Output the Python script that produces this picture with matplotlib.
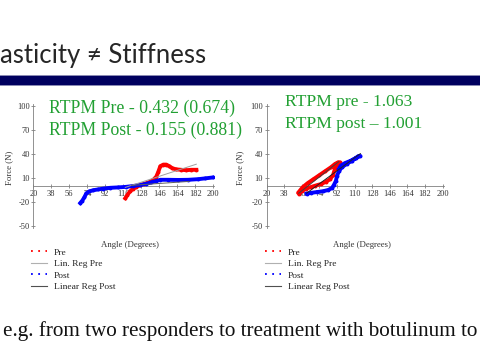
import matplotlib
matplotlib.use('Agg')
import matplotlib.pyplot as plt
from matplotlib.lines import Line2D
from matplotlib.patches import Rectangle

plt.rcParams['font.family'] = ['Liberation Serif', 'DejaVu Serif']
plt.rcParams['axes.unicode_minus'] = False

# axis ticks
x_ticks = [20, 38, 56, 74, 92, 110, 128, 146, 164, 182, 200]
y_ticks = [-50, -20, 10, 40, 70, 100]

# left chart
pre1_angle = [112, 114, 117, 120, 123, 127, 131, 136, 140, 143, 145, 147, 150, 153, 156, 159, 163, 168, 173, 178, 183]
pre1_force = [-15, -11, -6, -3, -1, 1.5, 3, 5, 8, 12, 18, 25, 27, 27, 25, 22.5, 21, 20.5, 20, 20.5, 20.5]
post1_angle = [67, 69, 71, 73, 76, 80, 85, 90, 97, 105, 113, 120, 127, 133, 138, 143, 147, 155, 165, 175, 185, 192, 200]
post1_force = [-21, -18, -14, -9, -6.5, -5, -4, -3, -2, -1.5, -0.8, 0.3, 1.5, 3, 4.8, 6.5, 8, 8, 7.8, 8, 8.8, 9.8, 11]
reg_pre1_angle = [112, 183]
reg_pre1_force = [-1.5, 27.5]
reg_post1_angle = [118, 176]
reg_post1_force = [1, 6]

# right chart
pre2_angle = [53, 56, 60, 65, 70, 76, 81, 85, 88, 90, 92, 95, 93, 90, 86, 80, 74, 68, 62, 57, 53]
pre2_force = [-9, -6, -3, -1, 1, 3, 6, 9, 14, 22, 27, 30, 30, 28, 24, 19, 14, 9, 4, -1, -7]
post2_angle = [61, 66, 72, 78, 83, 87, 89, 91, 92, 94, 97, 102, 107, 111, 114, 116, 112, 106, 100, 96, 94]
post2_force = [-9, -8, -7, -6, -4.5, -2, 2, 7, 13, 19, 24, 28, 32, 35, 38, 38, 36, 32, 29, 26, 22]
reg_pre2_angle = [53, 94]
reg_pre2_force = [-8.5, 31]
reg_post2_angle = [61, 116]
reg_post2_force = [-8.5, 41]

labels = ['Pre', 'Lin. Reg Pre', 'Post', 'Linear Reg Post']
green = '#22a033'

fig = plt.figure(figsize=(4.8, 3.6), dpi=100)

# title and bar
fig.text(0.0, 0.826, 'asticity \u2260 Stiffness', family=['Lato', 'DejaVu Sans'],
         fontsize=18.5, color='#262626', ha='left', va='baseline')
fig.patches.append(Rectangle((0, (360 - 85.7) / 360), 1, 10.4 / 360, transform=fig.transFigure,
                             facecolor='#8a8ab4', edgecolor='none'))
fig.patches.append(Rectangle((0, (360 - 84.7) / 360), 1, 8.4 / 360, transform=fig.transFigure,
                             facecolor='#00005f', edgecolor='none'))


def setup(ax):
    ax.set_xlim(20, 201)
    ax.set_ylim(-52, 103)
    ax.patch.set_alpha(0)
    for s in ['top', 'right']:
        ax.spines[s].set_visible(False)
    ax.spines['bottom'].set_position(('data', 0))
    ax.spines['left'].set_position(('data', 20))
    for s in ['bottom', 'left']:
        ax.spines[s].set_color('#808080')
        ax.spines[s].set_linewidth(0.6)
    ax.set_xticks(x_ticks)
    ax.set_yticks(y_ticks)
    ax.tick_params(direction='inout', length=3, width=0.6, color='#808080',
                   labelsize=6, pad=1, labelcolor='#333333')


def draw(ax, pa, pf, qa, qf, rpa, rpf, rqa, rqf, c_pre_reg, c_post_reg):
    ax.plot(rpa, rpf, color=c_pre_reg, lw=0.7, zorder=4)
    ax.plot(rqa, rqf, color=c_post_reg, lw=0.7, zorder=4)
    ax.plot(pa, pf, color='#ff0000', lw=2.8, marker='o', ms=1.8, zorder=3)
    ax.plot(qa, qf, color='#0000ff', lw=2.8, marker='o', ms=1.8, zorder=3)


ax1 = fig.add_axes([33.3 / 480, (360 - 227.8) / 360, 181 / 480, 124 / 360])
setup(ax1)
draw(ax1, pre1_angle, pre1_force, post1_angle, post1_force,
     reg_pre1_angle, reg_pre1_force, reg_post1_angle, reg_post1_force, '#a0a0a0', '#606060')

ax2 = fig.add_axes([266.5 / 480, (360 - 228.0) / 360, 177 / 480, 124 / 360])
setup(ax2)
draw(ax2, pre2_angle, pre2_force, post2_angle, post2_force,
     reg_pre2_angle, reg_pre2_force, reg_post2_angle, reg_post2_force, '#404040', '#202020')

handles = [Line2D([], [], color='red', ls=(0, (1, 3)), lw=1.3),
           Line2D([], [], color='#b0b0b0', lw=0.8),
           Line2D([], [], color='blue', ls=(0, (1, 3)), lw=1.3),
           Line2D([], [], color='#505050', lw=0.8)]

for xl, xa, xf in [(9, 130, 31), (240, 362, 265)]:
    fig.text(xl / 480, (360 - 168) / 360, 'Force (N)', rotation=90, fontsize=6.3,
             ha='center', va='center', color='#333333')
    fig.text(xa / 480, (360 - 245) / 360, 'Angle (Degrees)', fontsize=6.3,
             ha='center', va='center', color='#333333')
    fig.legend(handles, labels, loc='upper left', bbox_to_anchor=(xf / 480, (360 - 248) / 360),
               frameon=False, fontsize=6.8, handlelength=1.7, handletextpad=0.7,
               labelspacing=0.3, borderpad=0, borderaxespad=0, labelcolor='#222222')

# annotations
fig.text(49 / 480, (360 - 113.3) / 360, 'RTPM Pre - 0.432 (0.674)', fontsize=12.8, color=green, va='baseline')
fig.text(49 / 480, (360 - 135) / 360, 'RTPM Post - 0.155 (0.881)', fontsize=12.8, color=green, va='baseline')
fig.text(285 / 480, (360 - 106) / 360, 'RTPM pre - 1.063', fontsize=12.6, color=green, va='baseline')
fig.text(285 / 480, (360 - 127.7) / 360, 'RTPM post \u2013 1.001', fontsize=12.6, color=green, va='baseline')

fig.text(3.3 / 480, (360 - 336) / 360, 'e.g. from two responders to treatment with botulinum to',
         fontsize=15.2, color='#111111', va='baseline')

fig.savefig('out.png', dpi=100)
